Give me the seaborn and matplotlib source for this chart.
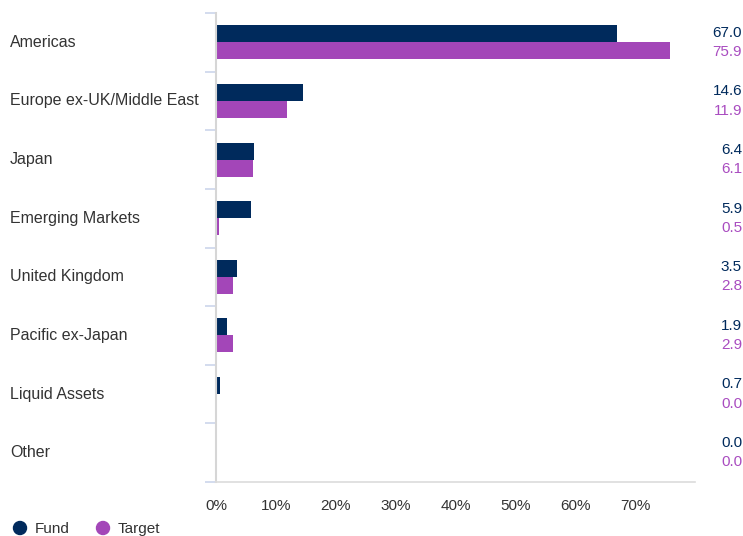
import numpy as np
import pandas as pd
import matplotlib
matplotlib.use("Agg")
import matplotlib.pyplot as plt
import matplotlib.transforms as mtransforms
from matplotlib.patches import Ellipse
import seaborn as sns

# Data
categories = ["Americas", "Europe ex-UK/Middle East", "Japan", "Emerging Markets",
              "United Kingdom", "Pacific ex-Japan", "Liquid Assets", "Other"]
fund = [67.0, 14.6, 6.4, 5.9, 3.5, 1.9, 0.7, 0.0]
target = [75.9, 11.9, 6.1, 0.5, 2.8, 2.9, 0.0, 0.0]
series_names = ["Fund", "Target"]
x_ticks = [0, 10, 20, 30, 40, 50, 60, 70]

fund_color = "#002a5c"
target_color = "#a346b8"
target_text = "#a94cc0"

sns.set_style("white")
plt.rcParams["font.family"] = ["Liberation Sans", "DejaVu Sans"]

df = pd.DataFrame({
    "category": categories * 2,
    "value": fund + target,
    "series": [series_names[0]] * len(categories) + [series_names[1]] * len(categories),
})

fig = plt.figure(figsize=(7.43, 5.36), dpi=100)
ax = fig.add_axes([216 / 743, 54 / 536, (695 - 216) / 743, (523 - 54) / 536])

sns.barplot(data=df, y="category", x="value", hue="series", orient="h",
            palette=[fund_color, target_color], width=0.58, ax=ax,
            legend=False, saturation=1, linewidth=0, edgecolor="none")

ax.set_xlim(0, 80)
ax.set_ylim(len(categories) - 0.5, -0.5)
ax.set_xlabel("")
ax.set_ylabel("")
ax.set_xticks(x_ticks)
ax.set_xticklabels([f"{t}%" for t in x_ticks], fontsize=11, color="#333333")
ax.tick_params(axis="x", length=0, pad=12)
ax.set_yticks([])

for s in ["top", "right"]:
    ax.spines[s].set_visible(False)
ax.spines["left"].set_color("#d6d6d6")
ax.spines["left"].set_linewidth(1.5)
ax.spines["bottom"].set_color("#dcdcdc")
ax.spines["bottom"].set_linewidth(1.2)

# category separators and labels
trans_lab = mtransforms.blended_transform_factory(fig.transFigure, ax.transData)
for i in range(len(categories) + 1):
    ax.plot([-11 / 60 * 10, 0], [i - 0.5, i - 0.5], color="#ccd6eb",
            lw=1.2, clip_on=False, solid_capstyle="butt")
for i, cat in enumerate(categories):
    fig.text(10 / 743, 0, cat, transform=trans_lab, fontsize=11.5, color="#333333",
             ha="left", va="center").set_y(i)

# value labels
for i, (f, t) in enumerate(zip(fund, target)):
    fig.text(742 / 743, 0, f"{f:.1f}", transform=trans_lab, fontsize=11,
             color=fund_color, ha="right", va="center").set_y(i - 0.165)
    fig.text(742 / 743, 0, f"{t:.1f}", transform=trans_lab, fontsize=11,
             color=target_text, ha="right", va="center").set_y(i + 0.165)

# legend
for x0, name, col in [(20, series_names[0], fund_color), (103, series_names[1], target_color)]:
    fig.patches.append(Ellipse((x0 / 743, 8 / 536), 13 / 743, 13 / 536,
                               transform=fig.transFigure, color=col))
    fig.text((x0 + 15) / 743, 7 / 536, name, fontsize=11, color="#333333",
             ha="left", va="center")

fig.savefig("out.png", dpi=100)
